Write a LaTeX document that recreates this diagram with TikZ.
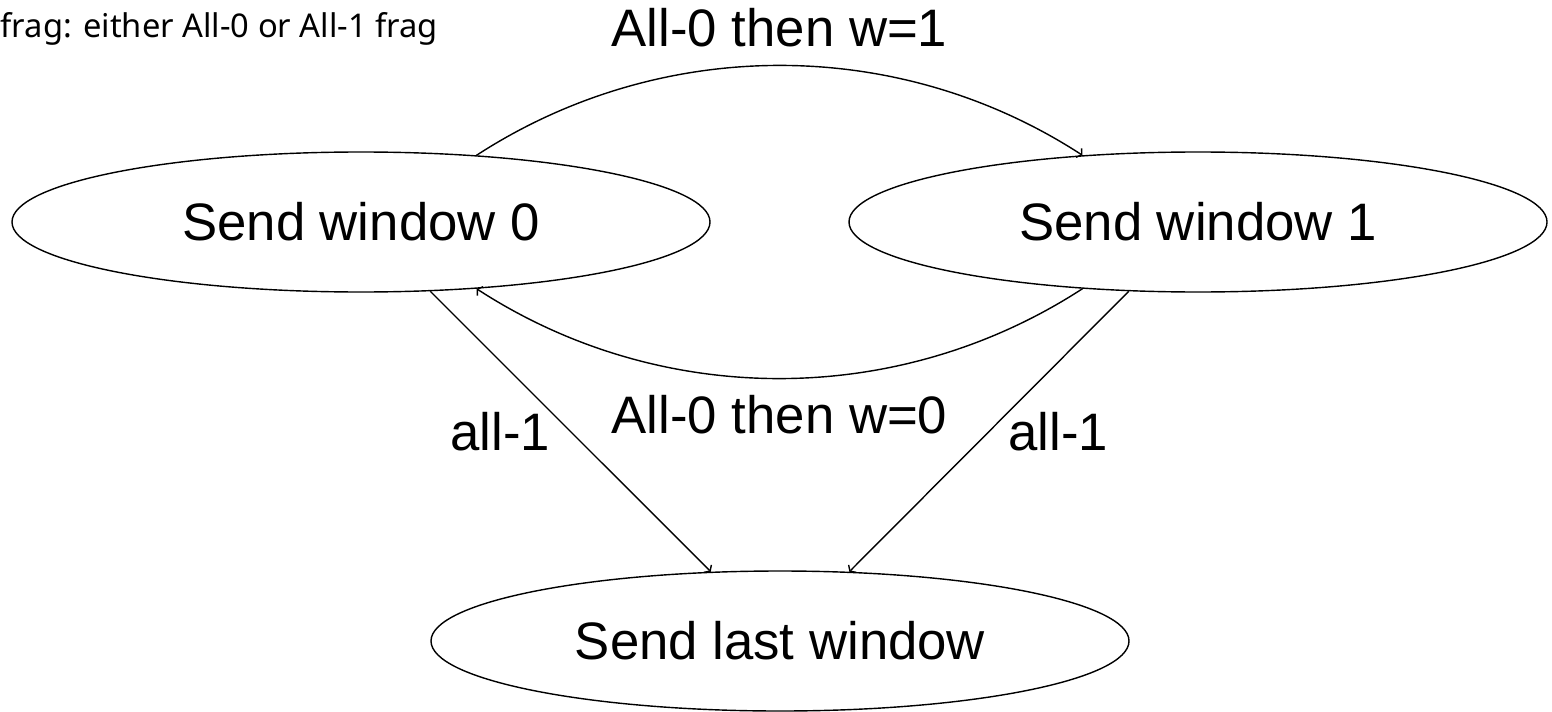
\documentclass[tikz,border=0pt]{standalone}
\usepackage{fontspec}
\setmainfont{Liberation Sans}
\newfontfamily\notefont{Noto Sans}
\usetikzlibrary{shapes.geometric,positioning,arrows.meta}

\begin{document}
\begin{tikzpicture}[>={Straight Barb[length=2pt,width=6pt]}, line width=0.8pt,
    node distance=8.38cm, on grid, font=\fontsize{30}{36}\selectfont,
    win/.style={ellipse, draw, inner sep=0pt, minimum width=13.96cm, minimum height=2.8cm}]

    \useasboundingbox (0,0) rectangle (31.04,14.22);

    \node[anchor=base west, inner sep=0pt, font=\notefont\fontsize{18.6}{22}\selectfont] (note) at (0,13.46) {frag: either All-0 or All-1 frag};

    \node[win] (w0) at (7.22,9.78) {Send window 0};
    \node[win] (w1) [right=16.74cm of w0] {Send window 1};
    \node[win] (last) [below right=8.38cm and 8.38cm of w0] {Send last window};

    \path[->]
        (w0.30) edge[out=33, in=147, looseness=0.93] node[above=0.24cm] {All-0 then w=1} (w1.150)
        (w1.210) edge[out=213, in=-33, looseness=0.93] node[below=0.2cm] {All-0 then w=0} (w0.330)
        (w0.-45) edge node[left=0.28cm] {all-1} (last.135)
        (w1.225) edge node[right=0.26cm] {all-1} (last.45);

\end{tikzpicture}
\end{document}
